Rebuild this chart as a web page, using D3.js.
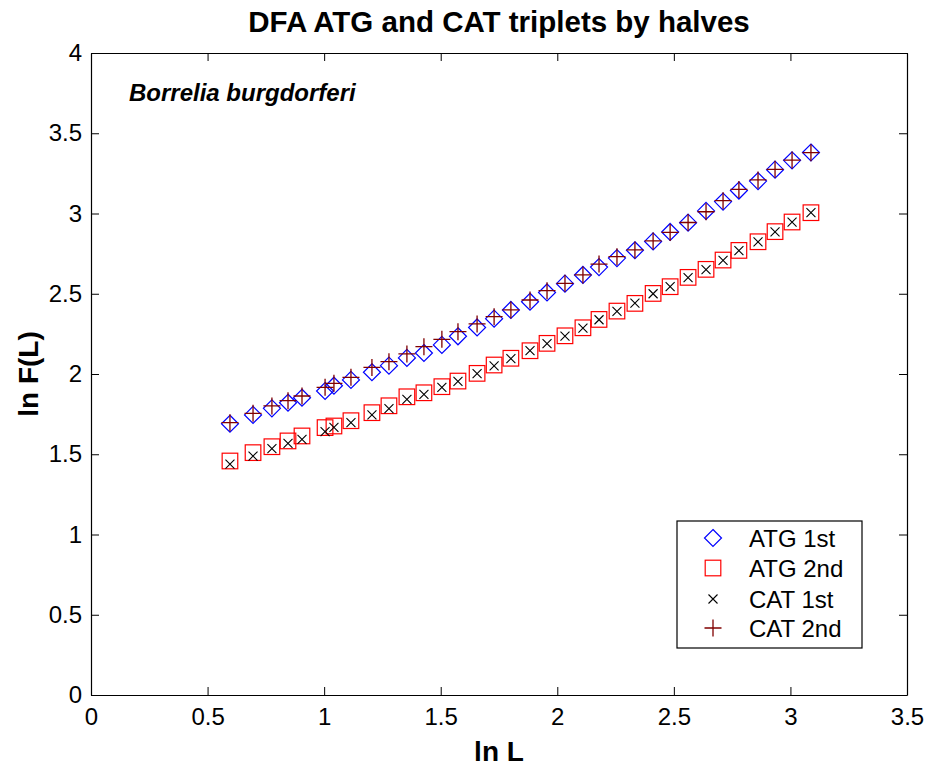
<!DOCTYPE html>
<html>
<head>
<meta charset="utf-8">
<script src="https://cdn.jsdelivr.net/npm/d3@7"></script>
<style>
  body { margin: 0; background: #fff; }
  text { font-family: "Liberation Sans", Arial, sans-serif; }
</style>
</head>
<body>
<svg id="chart"></svg>
<script>
// DFA of ATG / CAT triplets

const lnL = [0.596, 0.695, 0.776, 0.845, 0.905, 1.004, 1.042, 1.115, 1.205, 1.278,
             1.355, 1.428, 1.505, 1.574, 1.656, 1.729, 1.801, 1.883, 1.956, 2.033,
             2.110, 2.179, 2.256, 2.333, 2.411, 2.484, 2.561, 2.638, 2.711, 2.779,
             2.861, 2.934, 3.007, 3.088];

const atg1st = [1.690, 1.745, 1.786, 1.821, 1.852, 1.894, 1.927, 1.963, 2.011, 2.052,
                2.100, 2.131, 2.181, 2.235, 2.290, 2.345, 2.399, 2.450, 2.508, 2.563,
                2.617, 2.666, 2.722, 2.771, 2.826, 2.885, 2.943, 3.016, 3.074, 3.143,
                3.202, 3.273, 3.331, 3.380];

const atg2nd = [1.458, 1.510, 1.547, 1.583, 1.614, 1.666, 1.676, 1.709, 1.759, 1.802,
                1.858, 1.883, 1.921, 1.956, 2.004, 2.056, 2.098, 2.145, 2.191, 2.238,
                2.288, 2.340, 2.392, 2.440, 2.502, 2.544, 2.602, 2.652, 2.710, 2.770,
                2.824, 2.887, 2.947, 3.005];

const cat1st = [1.439, 1.489, 1.535, 1.568, 1.593, 1.641, 1.668, 1.697, 1.745, 1.784,
                1.842, 1.873, 1.917, 1.954, 2.002, 2.050, 2.096, 2.146, 2.189, 2.236,
                2.286, 2.338, 2.390, 2.441, 2.500, 2.545, 2.600, 2.650, 2.708, 2.769,
                2.823, 2.885, 2.946, 3.006];

const cat2nd = [1.697, 1.755, 1.801, 1.834, 1.863, 1.917, 1.942, 1.979, 2.041, 2.077,
                2.125, 2.170, 2.216, 2.264, 2.312, 2.357, 2.399, 2.461, 2.519, 2.565,
                2.617, 2.685, 2.731, 2.773, 2.829, 2.882, 2.944, 3.011, 3.080, 3.150,
                3.209, 3.275, 3.333, 3.379];

const xTicks = [0, 0.5, 1, 1.5, 2, 2.5, 3, 3.5];
const yTicks = [0, 0.5, 1, 1.5, 2, 2.5, 3, 3.5, 4];
const legendLabels = ["ATG 1st", "ATG 2nd", "CAT 1st", "CAT 2nd"];

const width = 927;
const height = 767;
const margin = { top: 53, right: 20, bottom: 72, left: 91 };

const svg = d3.select("#chart")
  .attr("width", width)
  .attr("height", height);

const x = d3.scaleLinear().domain([0, 3.5]).range([margin.left, width - margin.right]);
const y = d3.scaleLinear().domain([0, 4]).range([height - margin.bottom, margin.top]);

// marker painters, one per series
function diamond(g, cx, cy) {
  const r = 8.5;
  g.append("path")
    .attr("d", `M${cx},${cy - r}L${cx + r},${cy}L${cx},${cy + r}L${cx - r},${cy}Z`)
    .attr("fill", "none").attr("stroke", "#0000ff").attr("stroke-width", 1.2);
}
function square(g, cx, cy) {
  const r = 7.8;
  g.append("rect")
    .attr("x", cx - r).attr("y", cy - r).attr("width", 2 * r).attr("height", 2 * r)
    .attr("fill", "none").attr("stroke", "#ff0000").attr("stroke-width", 1.2);
}
function cross(g, cx, cy) {
  const r = 4.5;
  g.append("path")
    .attr("d", `M${cx - r},${cy - r}L${cx + r},${cy + r}M${cx - r},${cy + r}L${cx + r},${cy - r}`)
    .attr("stroke", "#000").attr("stroke-width", 1.1);
}
function plus(g, cx, cy) {
  const r = 8.5;
  g.append("path")
    .attr("d", `M${cx - r},${cy}L${cx + r},${cy}M${cx},${cy - r}L${cx},${cy + r}`)
    .attr("stroke", "#800000").attr("stroke-width", 1.3);
}

const series = [
  { values: atg1st, draw: diamond },
  { values: atg2nd, draw: square },
  { values: cat1st, draw: cross },
  { values: cat2nd, draw: plus }
];

// axes (ticks point inward, box on all sides)
const fmt = d => String(d);

svg.append("g")
  .attr("transform", `translate(0,${y(0)})`)
  .call(d3.axisBottom(x).tickValues(xTicks).tickFormat(fmt).tickSizeInner(-8).tickSizeOuter(0).tickPadding(13));

svg.append("g")
  .attr("transform", `translate(${x(0)},0)`)
  .call(d3.axisLeft(y).tickValues(yTicks).tickFormat(fmt).tickSizeInner(-8).tickSizeOuter(0).tickPadding(9));

svg.append("g")
  .attr("transform", `translate(0,${y(4)})`)
  .call(d3.axisTop(x).tickValues(xTicks).tickFormat("").tickSizeInner(-8).tickSizeOuter(0));

svg.append("g")
  .attr("transform", `translate(${x(3.5)},0)`)
  .call(d3.axisRight(y).tickValues(yTicks).tickFormat("").tickSizeInner(-8).tickSizeOuter(0));

svg.selectAll(".domain").attr("stroke", "#000").attr("stroke-width", 1.2);
svg.selectAll(".tick line").attr("stroke", "#000");
svg.selectAll(".tick text")
  .attr("font-size", 24)
  .attr("font-family", '"Liberation Sans", Arial, sans-serif')
  .attr("fill", "#000");

// points
const plot = svg.append("g");
series.forEach(function (s) {
  s.values.forEach(function (v, i) {
    s.draw(plot, x(lnL[i]), y(v));
  });
});

// titles
svg.append("text")
  .attr("x", (x(0) + x(3.5)) / 2).attr("y", 32)
  .attr("text-anchor", "middle")
  .attr("font-size", 29.5).attr("font-weight", "bold")
  .text("DFA ATG and CAT triplets by halves");

svg.append("text")
  .attr("x", (x(0) + x(3.5)) / 2).attr("y", 761)
  .attr("text-anchor", "middle")
  .attr("font-size", 28).attr("font-weight", "bold")
  .text("ln L");

svg.append("text")
  .attr("transform", `translate(38,${(y(0) + y(4)) / 2}) rotate(-90)`)
  .attr("text-anchor", "middle")
  .attr("font-size", 28).attr("font-weight", "bold")
  .text("ln F(L)");

svg.append("text")
  .attr("x", 129).attr("y", 101)
  .attr("font-size", 24).attr("font-weight", "bold").attr("font-style", "italic")
  .text("Borrelia burgdorferi");

// legend
const legend = svg.append("g");
legend.append("rect")
  .attr("x", 677).attr("y", 521).attr("width", 185).attr("height", 127)
  .attr("fill", "#fff").attr("stroke", "#000").attr("stroke-width", 1.2);

const rowY = [538, 568, 599, 628];
legendLabels.forEach(function (label, i) {
  series[i].draw(legend, 713, rowY[i]);
  legend.append("text")
    .attr("x", 749).attr("y", rowY[i] + 8.5)
    .attr("font-size", 24)
    .text(label);
});
</script>
</body>
</html>
